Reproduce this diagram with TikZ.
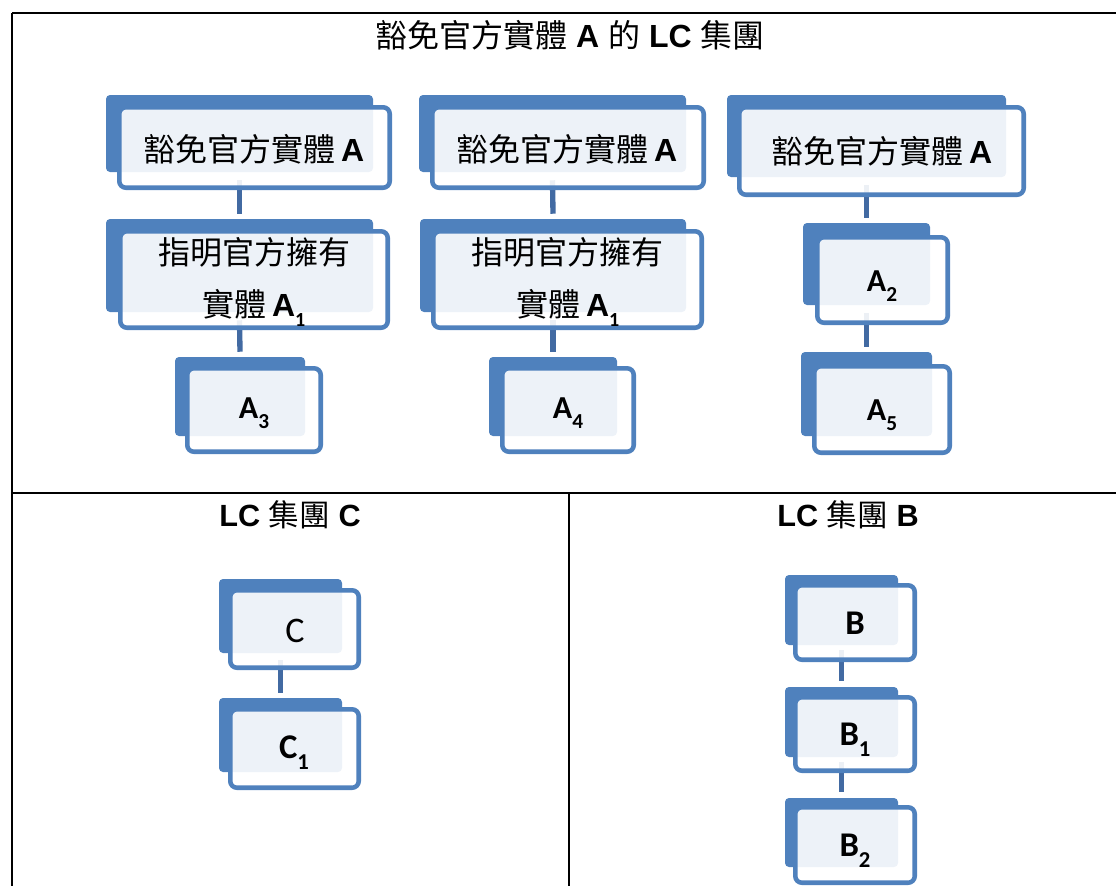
\documentclass[tikz,border=0pt]{standalone}
\usepackage{fontspec}
\setmainfont{Liberation Sans}
\newfontfamily\cjk{Noto Sans CJK TC}
\newfontfamily\calb{Carlito}
\usetikzlibrary{fit,calc}
\definecolor{boxblue}{RGB}{79,129,189}
\definecolor{connblue}{RGB}{66,106,162}
\newcommand{\cj}[1]{{\cjk #1}}
\newcommand{\subs}[2]{\raisebox{-0.32em}{\fontsize{#1}{#1}\selectfont #2}}
\tikzset{
  backbox/.style={fill=boxblue, draw=none, rounded corners=3pt, inner sep=0pt},
  frontbox/.style={draw=boxblue, line width=3.4pt, fill=white, fill opacity=0.9, rounded corners=5pt, inner sep=-1.7pt},
  conn/.style={draw=connblue, line width=4pt},
  lbl/.style={inner sep=0pt, anchor=base, text=black},
  cjklbl/.style={lbl, font=\fontsize{24}{28}\selectfont},
  callbl/.style={lbl, font=\calb\bfseries\fontsize{24}{24}\selectfont},
  titlelbl/.style={lbl, font=\fontsize{24}{28}\selectfont},
  rule/.style={line width=1.6pt, black}
}
\begin{document}
\begin{tikzpicture}[x=0.75pt, y=-0.75pt]
\useasboundingbox (0,0) rectangle (1116,886);
% table rules
\draw[rule] (12,13) -- (1116,13);
\draw[rule] (12,13) -- (12,886);
\draw[rule] (12,493) -- (1116,493);
\draw[rule] (569,493) -- (569,886);

% back rectangles
\node[backbox, fit={(106,95)(373,172)}] (a1b) {};
\node[backbox, fit={(106,219)(373,312)}] (a2b) {};
\node[backbox, fit={(175,357)(305,436)}] (a3b) {};
\node[backbox, fit={(419,95)(686,172)}] (b1b) {};
\node[backbox, fit={(420,219)(686,312)}] (b2b) {};
\node[backbox, fit={(489,357)(617,436)}] (b3b) {};
\node[backbox, fit={(727,95)(1006,177)}] (c1b) {};
\node[backbox, fit={(803,223)(930,305)}] (c2b) {};
\node[backbox, fit={(801,352)(932,436)}] (c3b) {};
\node[backbox, fit={(219,579)(342,653)}] (cb) {};
\node[backbox, fit={(219,698)(342,772)}] (c1xb) {};
\node[backbox, fit={(785,575)(898,645)}] (bb) {};
\node[backbox, fit={(785,687)(898,757)}] (bb1) {};
\node[backbox, fit={(785,798)(898,867)}] (bb2) {};

% connectors
\draw[conn] ($(a1b.south)+(0,8)$) -- ($(a2b.north)+(0,-5)$);
\draw[conn] ($(a2b.south)+(0,8)$) -- ($(a3b.north)+(0,-5)$);
\draw[conn] ($(b1b.south)+(0,8)$) -- ($(b2b.north)+(0,-5)$);
\draw[conn] ($(b2b.south)+(0,8)$) -- ($(b3b.north)+(0,-5)$);
\draw[conn] ($(c1b.south)+(0,8)$) -- ($(c2b.north)+(0,-5)$);
\draw[conn] ($(c2b.south)+(0,8)$) -- ($(c3b.north)+(0,-5)$);
\draw[conn] ($(cb.south)+(0,7)$) -- ($(c1xb.north)+(0,-5)$);
\draw[conn] ($(bb.south)+(0,5)$) -- ($(bb1.north)+(0,-6)$);
\draw[conn] ($(bb1.south)+(0,5)$) -- ($(bb2.north)+(0,-6)$);

% front boxes
\node[frontbox, fit={(117,105)(392,190)}] (a1f) {};
\node[frontbox, fit={(118,229)(390,330)}] (a2f) {};
\node[frontbox, fit={(185,366)(323,454)}] (a3f) {};
\node[frontbox, fit={(430,105)(706,190)}] (b1f) {};
\node[frontbox, fit={(431,229)(704,330)}] (b2f) {};
\node[frontbox, fit={(500,366)(636,454)}] (b3f) {};
\node[frontbox, fit={(737,105)(1026,197)}] (c1f) {};
\node[frontbox, fit={(815,235)(950,325)}] (c2f) {};
\node[frontbox, fit={(812,364)(952,455)}] (c3f) {};
\node[frontbox, fit={(228,588)(361,670)}] (cf) {};
\node[frontbox, fit={(228,707)(361,790)}] (c1xf) {};
\node[frontbox, fit={(793,583)(917,662)}] (bf) {};
\node[frontbox, fit={(793,695)(917,773)}] (bf1) {};
\node[frontbox, fit={(793,805)(917,885)}] (bf2) {};

% titles
\node[titlelbl] (title) at (570,47) {\cj{豁免官方實體} \textbf{A} \cj{的} \textbf{LC} \cj{集團}};
\node[titlelbl, font=\fontsize{23}{27}\selectfont] (titleC) at (290,526) {\textbf{LC} \cj{集團} \textbf{C}};
\node[titlelbl, font=\fontsize{23}{27}\selectfont] (titleB) at (848,526) {\textbf{LC} \cj{集團} \textbf{B}};

% box texts
\node[cjklbl] (ta1) at (254,161) {\cj{豁免官方實體}\,\textbf{A}};
\node[cjklbl] (tb1) at (567,161) {\cj{豁免官方實體}\,\textbf{A}};
\node[cjklbl] (tc1) at (882,163) {\cj{豁免官方實體}\,\textbf{A}};
\node[cjklbl] (ta2a) at (254,264) {\cj{指明官方擁有}};
\node[cjklbl] (ta2b) at (254,316) {\cj{實體}\,\textbf{A}{\calb\bfseries\subs{15}{1}}};
\node[cjklbl] (tb2a) at (567,264) {\cj{指明官方擁有}};
\node[cjklbl] (tb2b) at (568,316) {\cj{實體}\,\textbf{A}{\calb\bfseries\subs{15}{1}}};
\node[callbl] (ta3) at (254,418) {A\subs{16}{3}};
\node[callbl] (tb3) at (568,418) {A\subs{16}{4}};
\node[callbl] (tc2) at (882,291) {A\subs{16}{2}};
\node[callbl] (tc3) at (882,420) {A\subs{16}{5}};
\node[lbl, font=\calb\fontsize{27}{27}\selectfont] (tcc) at (295,642) {C};
\node[callbl, font=\calb\bfseries\fontsize{26}{26}\selectfont] (tcc1) at (294,758) {C\subs{17}{1}};
\node[callbl, font=\calb\bfseries\fontsize{26}{26}\selectfont] (tbb) at (855,634) {B};
\node[callbl, font=\calb\bfseries\fontsize{26}{26}\selectfont] (tbb1) at (855,745) {B\subs{17}{1}};
\node[callbl, font=\calb\bfseries\fontsize{26}{26}\selectfont] (tbb2) at (855,856) {B\subs{17}{2}};
\end{tikzpicture}
\end{document}
